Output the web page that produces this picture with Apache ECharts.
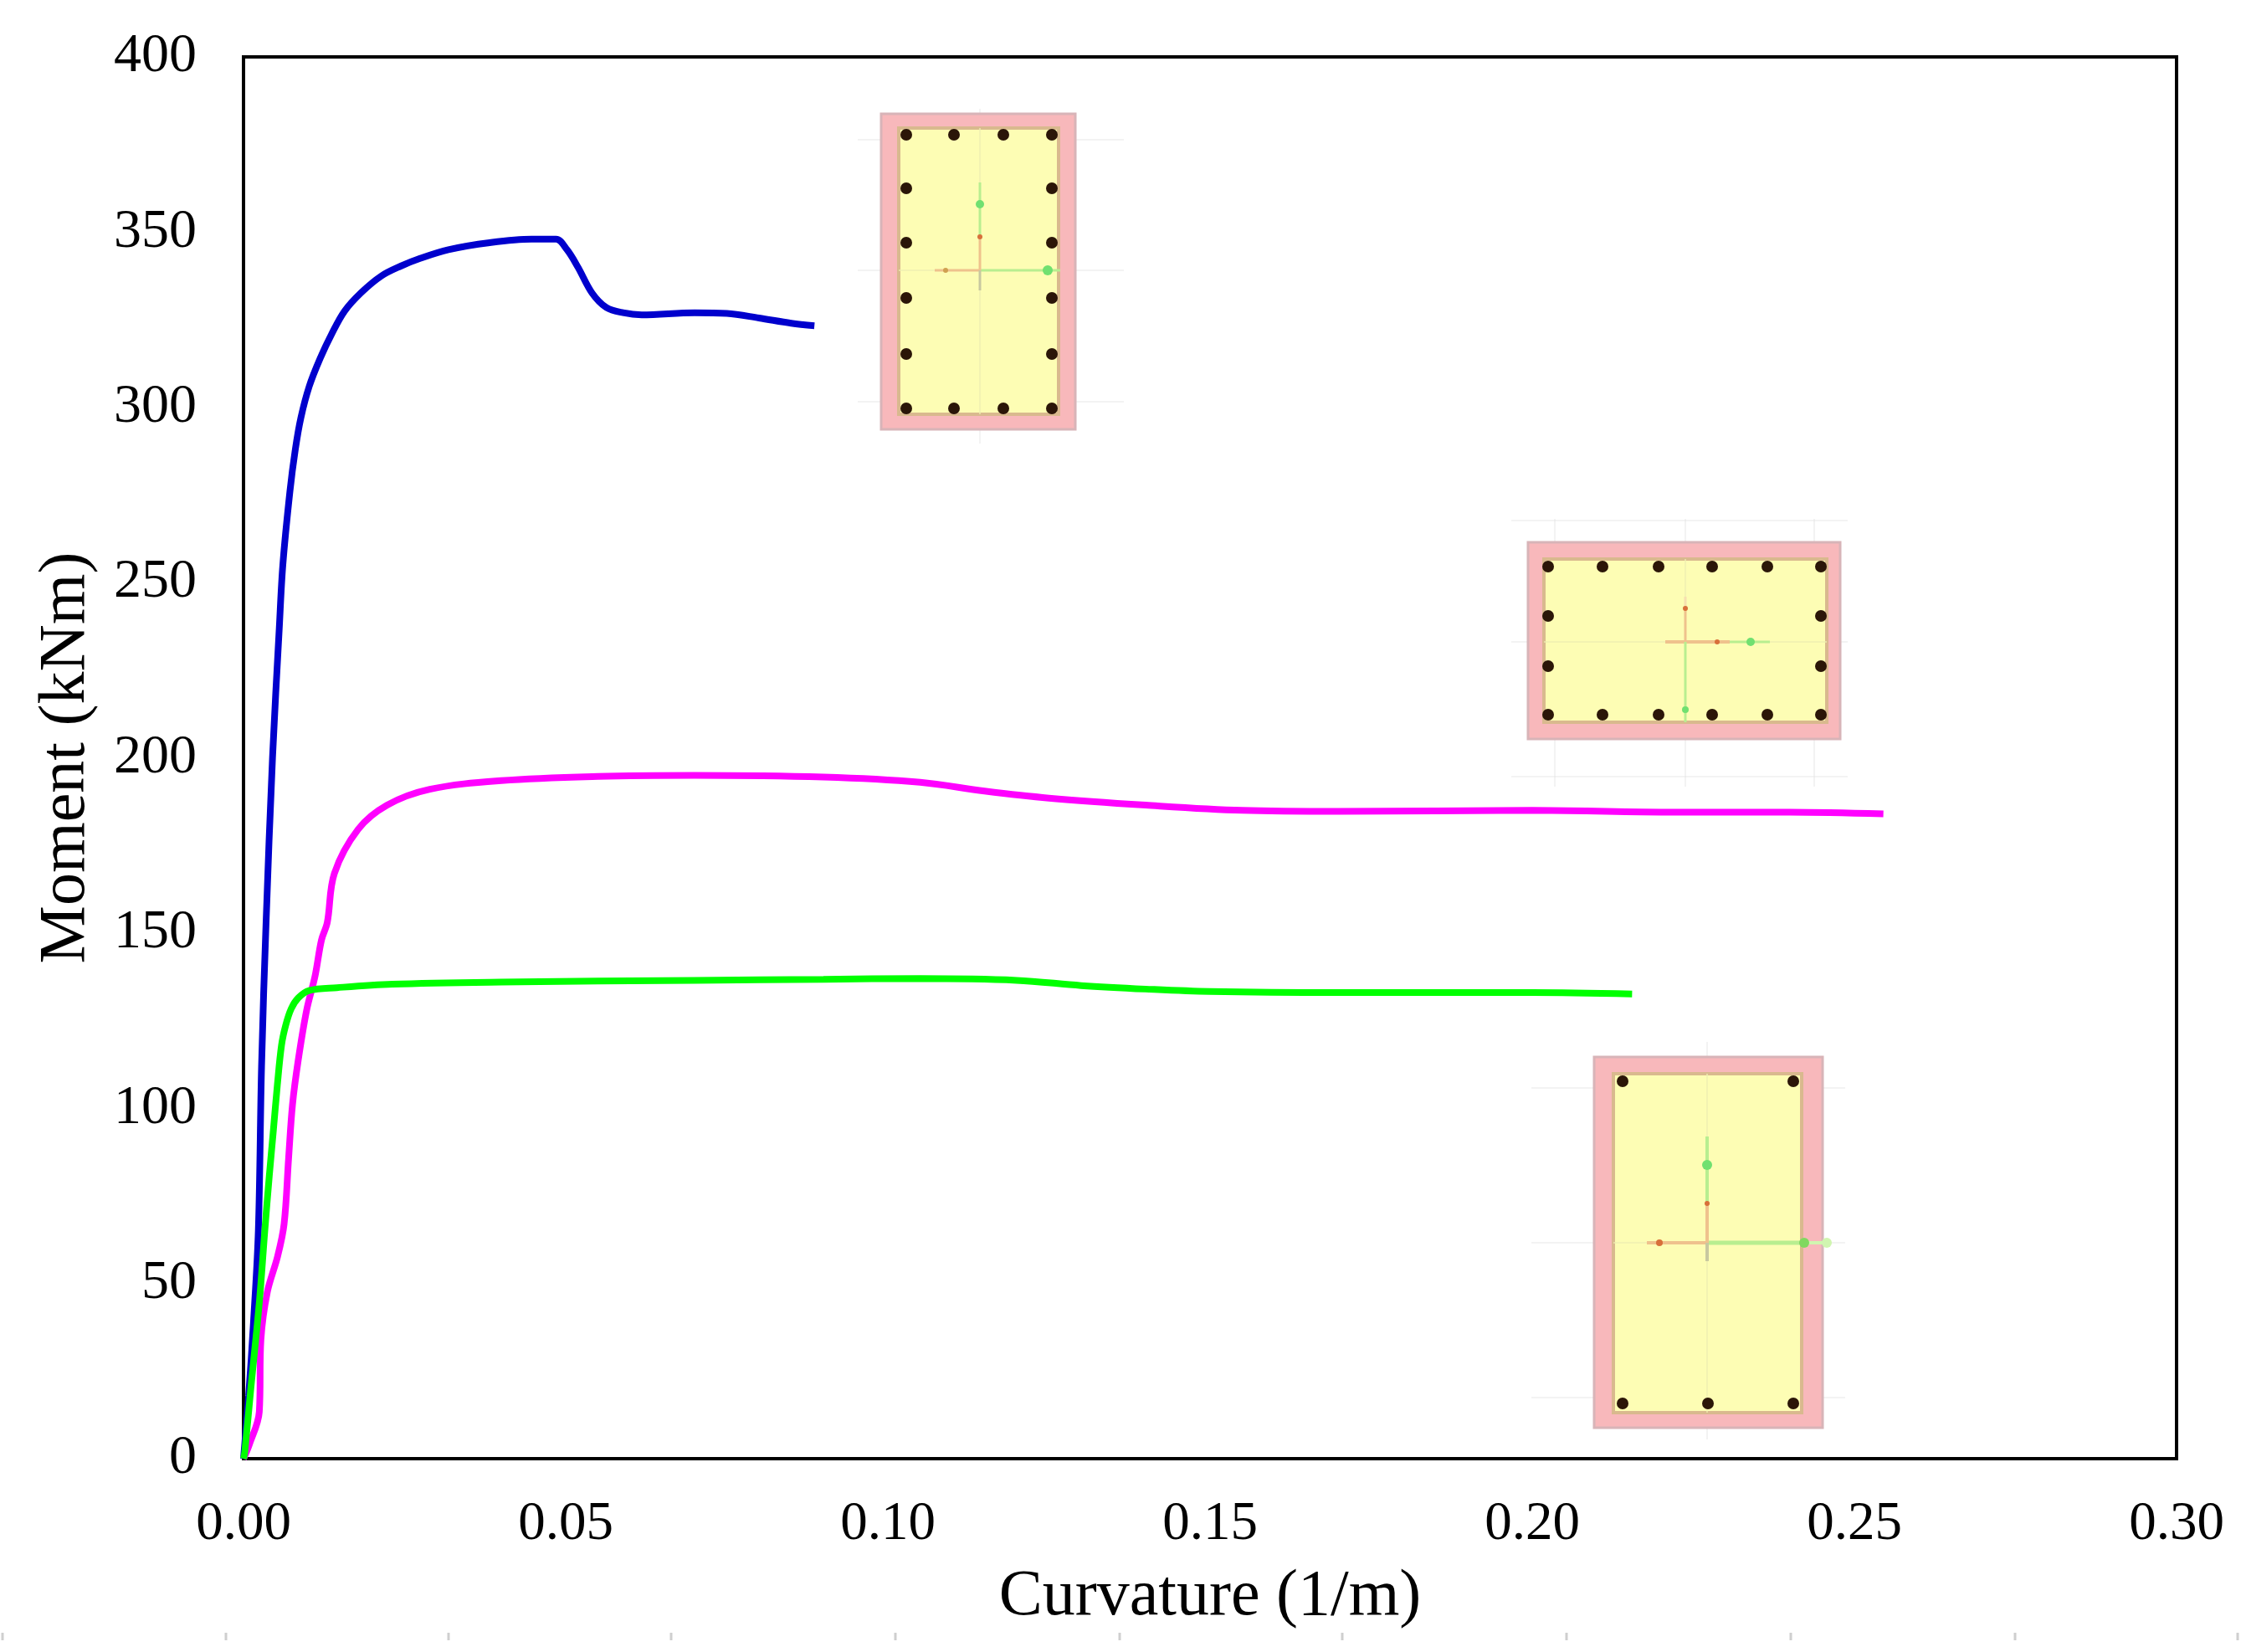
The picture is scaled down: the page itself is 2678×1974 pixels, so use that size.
<!DOCTYPE html>
<html><head><meta charset="utf-8">
<style>html,body{margin:0;padding:0;background:#fff}#c{width:2678px;height:1974px}</style>
<script src="https://cdn.jsdelivr.net/npm/echarts@6/dist/echarts.min.js"></script>
</head><body><div id="c"></div>
<script>
const xTicks = ['0.00','0.05','0.10','0.15','0.20','0.25','0.30'];
const xAxisName = 'Curvature (1/m)';
const yAxisName = 'Moment (kNm)';
const blueX = [0,0.0008,0.00155,0.0023,0.0028,0.0035,0.0045,0.00555,0.0061,0.0072,0.00804,0.0089,0.0102,0.0119,0.0137,0.0157,0.0183,0.0214,0.0244,0.0274,0.0318,0.0382,0.0447,0.0485,0.0502,0.0519,0.0541,0.0563,0.0589,0.0618,0.07,0.075,0.08,0.085,0.0886];
const blueY = [0,18,39,65,112,153,200,237,255,276,288,297,306,314,321,327.5,332.8,337.5,340.3,342.5,345,347,348,348,345,340,332.6,328.5,327,326.4,327,326.8,325.5,324,323.3];
const magentaX = [0,0.0009,0.00245,0.0027,0.0037,0.0053,0.0063,0.007,0.0076,0.0085,0.0098,0.0111,0.0121,0.013,0.0141,0.0178,0.0223,0.0289,0.04,0.055,0.07,0.09,0.105,0.115,0.125,0.14,0.155,0.17,0.2,0.22,0.24,0.2545];
const magentaY = [0,4,13.4,34,47.6,57.8,67,85.8,101,113.8,128,137.7,148,153,167,179.6,186.5,191,193.5,194.7,195,194.5,193,190.5,188.5,186.5,185,184.7,185,184.5,184.5,184];
const greenX = [0,0.0002,0.00116,0.00245,0.0033,0.004,0.0046,0.00525,0.0059,0.00655,0.0074,0.0085,0.0102,0.0145,0.0231,0.04,0.07,0.09,0.105,0.12,0.13,0.14,0.15,0.17,0.2,0.2155];
const greenY = [0,2,20.5,44.5,65,80.7,93,106.6,118,123.7,128.4,131.5,133.6,134.4,135.4,136,136.5,136.8,137,136.5,135,134,133.3,133,133,132.6];
const zip = (a,b)=>a.map((v,i)=>[v,b[i]]);

const OR='#efc28d',GR='#b8ee90',PG='#d0f5b0',DO='#d8703a',DG='#70e070',NE='#c8c8a0',PO='#f6dfb0';
const sections = [
 {o:[1053,136,1285,513],i:[1074,153,1265,495],c:[1171,323],
  bars:[[1083,161],[1140,161],[1199,161],[1257,161],[1083,225],[1257,225],[1083,290],[1257,290],[1083,356],[1257,356],[1083,423],[1257,423],[1083,488],[1140,488],[1199,488],[1257,488]],
  guides:{h:[167,323,480],v:[1171],box:[1025,130,1343,530]},
  segs:[[0,0,-54,0,OR,3],[0,0,96,0,GR,3],[0,0,0,-40,OR,3],[0,-40,0,-105,GR,3],[0,0,0,24,NE,3]],
  dots:[[0,-79,5,DG],[0,-40,3,DO],[-41,0,3,'#d0a050'],[81,0,6,DG]]},
 {o:[1826,648,2199,883],i:[1845,668,2183,863],c:[2014,767],
  bars:[[1850,677],[1915,677],[1982,677],[2046,677],[2112,677],[2176,677],[1850,736],[2176,736],[1850,796],[2176,796],[1850,854],[1915,854],[1982,854],[2046,854],[2112,854],[2176,854]],
  guides:{h:[622,767,928],v:[1858,2014,2168],box:[1806,620,2208,940]},
  segs:[[-24,0,53,0,OR,4],[53,0,101,0,GR,3],[0,0,0,-40,OR,3],[0,-40,0,-54,PO,3],[0,0,0,96,GR,3]],
  dots:[[38,0,3,DO],[78,0,5,DG],[0,-40,3,DO],[0,81,4,DG]]},
 {o:[1905,1263,2178,1706],i:[1928,1283,2153,1688],c:[2040,1485],
  bars:[[1939,1292],[2143,1292],[1939,1677],[2041,1677],[2143,1677]],
  guides:{h:[1300,1485,1670],v:[2040],box:[1830,1245,2205,1720]},
  segs:[[0,0,-72,0,OR,4],[0,0,116,0,GR,5],[116,0,143,0,PG,4],[0,0,0,-47,OR,4],[0,-47,0,-127,GR,4],[0,0,0,22,NE,4]],
  dots:[[0,-93,6,DG],[0,-47,3,DO],[-57,0,4,DO],[116,0,6,'#80d860'],[143,0,6,PG]]}
];
function rect(x0,y0,x1,y1,style){return {type:'rect',silent:true,shape:{x:x0,y:y0,width:x1-x0,height:y1-y0},style:style};}
function seg(x0,y0,x1,y1,color,w,op){return {type:'line',silent:true,shape:{x1:x0,y1:y0,x2:x1,y2:y1},style:{stroke:color,lineWidth:w,opacity:op==null?1:op}};}
const gfx=[];
sections.forEach(s=>{
  const g=s.guides,[cx,cy]=s.c;
  g.h.forEach(y=>gfx.push(seg(g.box[0],y,g.box[2],y,'#e4e4e4',2,0.45)));
  g.v.forEach(x=>gfx.push(seg(x,g.box[1],x,g.box[3],'#e4e4e4',2,0.45)));
  gfx.push(rect(s.o[0],s.o[1],s.o[2],s.o[3],{fill:'#f8b8bb',stroke:'#d8b4b8',lineWidth:3}));
  gfx.push(rect(s.i[0],s.i[1],s.i[2],s.i[3],{fill:'#fdfdb4',stroke:'#d9b98e',lineWidth:4}));
  gfx.push(seg(cx,s.i[1],cx,s.i[3],'#eeeeb0',2,0.7));
  gfx.push(seg(s.i[0],cy,s.i[2],cy,'#eeeeb0',2,0.7));
  s.segs.forEach(t=>gfx.push(seg(cx+t[0],cy+t[1],cx+t[2],cy+t[3],t[4],t[5])));
  s.dots.forEach(d=>gfx.push({type:'circle',silent:true,shape:{cx:cx+d[0],cy:cy+d[1],r:d[2]},style:{fill:d[3]}}));
  s.bars.forEach(b=>gfx.push({type:'circle',silent:true,shape:{cx:b[0],cy:b[1],r:7},style:{fill:'#2b1608'}}));
});
[3,270,536,802,1070,1338,1604,1872,2140,2408,2674].forEach(x=>gfx.push(seg(x,1951,x,1960,'#cfcfcf',3)));

const font='"Liberation Serif","Times New Roman",serif';
const chart=echarts.init(document.getElementById('c'),null,{renderer:'canvas'});
const line=(name,x,y,color,z)=>({name,type:'line',data:zip(x,y),showSymbol:false,smooth:0.35,lineStyle:{color,width:8},itemStyle:{color},z});
chart.setOption({
  animation:false,backgroundColor:'#fff',
  grid:{left:291,right:77,top:68,bottom:231,show:true,borderColor:'#000',borderWidth:4,backgroundColor:'transparent'},
  xAxis:{type:'value',min:0,max:0.3,interval:0.05,name:xAxisName,nameLocation:'middle',nameGap:127,
    nameTextStyle:{fontFamily:font,fontSize:78,color:'#000'},
    axisLine:{show:false},axisTick:{show:false},splitLine:{show:false},
    axisLabel:{fontFamily:font,fontSize:65,color:'#000',margin:46,formatter:(v)=>xTicks[Math.round(v/0.05)]}},
  yAxis:{type:'value',min:0,max:400,interval:50,name:yAxisName,nameLocation:'middle',nameGap:172,
    nameTextStyle:{fontFamily:font,fontSize:78,color:'#000'},
    axisLine:{show:false},axisTick:{show:false},splitLine:{show:false},
    axisLabel:{fontFamily:font,fontSize:66,color:'#000',margin:56}},
  series:[line('Section A',blueX,blueY,'#0000cd',3),line('Section B',magentaX,magentaY,'#ff00ff',4),line('Section C',greenX,greenY,'#00ff00',5)],
  graphic:{elements:gfx}
});
</script></body></html>
